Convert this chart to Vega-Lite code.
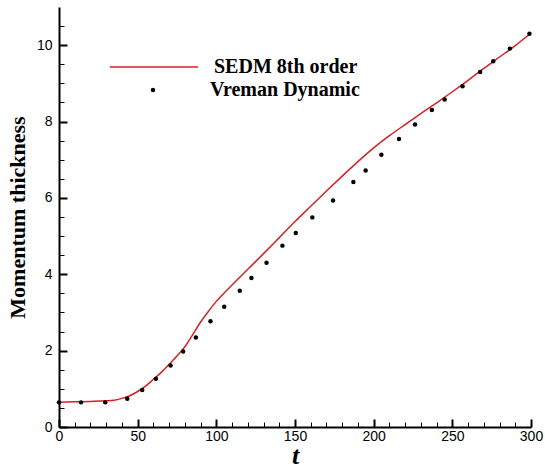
{
  "$schema": "https://vega.github.io/schema/vega-lite/v6.json",
  "width": 472,
  "height": 420,
  "autosize": {"type": "none"},
  "padding": {"left": 59, "top": 7, "right": 14, "bottom": 43},
  "background": "white",
  "config": {"view": {"stroke": null}},
  "datasets": {
    "sedm": [
      {"t": 0, "theta": 0.65}, {"t": 10, "theta": 0.66}, {"t": 20, "theta": 0.67}, {"t": 30, "theta": 0.685},
      {"t": 35, "theta": 0.70}, {"t": 40, "theta": 0.75}, {"t": 45, "theta": 0.82}, {"t": 50, "theta": 0.93},
      {"t": 55, "theta": 1.07}, {"t": 60, "theta": 1.25}, {"t": 65, "theta": 1.43}, {"t": 70, "theta": 1.64},
      {"t": 75, "theta": 1.86}, {"t": 80, "theta": 2.10}, {"t": 85, "theta": 2.42}, {"t": 90, "theta": 2.75},
      {"t": 95, "theta": 3.03}, {"t": 100, "theta": 3.29}, {"t": 105, "theta": 3.51}, {"t": 110, "theta": 3.72},
      {"t": 120, "theta": 4.13}, {"t": 130, "theta": 4.54}, {"t": 140, "theta": 4.96},
      {"t": 150, "theta": 5.38}, {"t": 160, "theta": 5.78}, {"t": 170, "theta": 6.18}, {"t": 180, "theta": 6.57},
      {"t": 190, "theta": 6.95}, {"t": 200, "theta": 7.31}, {"t": 210, "theta": 7.63}, {"t": 220, "theta": 7.92},
      {"t": 230, "theta": 8.21}, {"t": 240, "theta": 8.49}, {"t": 250, "theta": 8.78}, {"t": 260, "theta": 9.08},
      {"t": 270, "theta": 9.39}, {"t": 280, "theta": 9.69}, {"t": 290, "theta": 9.99}, {"t": 300, "theta": 10.32}
    ],
    "vreman": [
      {"t": 0, "theta": 0.645}, {"t": 14, "theta": 0.645}, {"t": 29.4, "theta": 0.645}, {"t": 43.4, "theta": 0.74},
      {"t": 52.9, "theta": 0.97}, {"t": 61.6, "theta": 1.265}, {"t": 70.9, "theta": 1.61}, {"t": 78.9, "theta": 1.98},
      {"t": 87, "theta": 2.345}, {"t": 96.3, "theta": 2.77}, {"t": 105, "theta": 3.15}, {"t": 114.9, "theta": 3.57},
      {"t": 122.3, "theta": 3.905}, {"t": 131.9, "theta": 4.30}, {"t": 142, "theta": 4.75}, {"t": 150.5, "theta": 5.08},
      {"t": 161, "theta": 5.49}, {"t": 174.2, "theta": 5.93}, {"t": 187.1, "theta": 6.415}, {"t": 194.9, "theta": 6.72},
      {"t": 204.9, "theta": 7.13}, {"t": 216.1, "theta": 7.54}, {"t": 226.3, "theta": 7.92}, {"t": 237, "theta": 8.30},
      {"t": 245.1, "theta": 8.575}, {"t": 256.5, "theta": 8.925}, {"t": 267.7, "theta": 9.30}, {"t": 276, "theta": 9.58},
      {"t": 286.6, "theta": 9.91}, {"t": 299, "theta": 10.30}
    ]
  },
  "encoding": {
    "x": {
      "field": "t", "type": "quantitative",
      "scale": {"domain": [0, 300], "nice": false},
      "axis": {
        "title": "t",
        "titleFont": "Liberation Serif", "titleFontStyle": "italic", "titleFontWeight": "bold", "titleFontSize": 26,
        "titleColor": "black", "titlePadding": -4,
        "values": [0,10,20,30,40,50,60,70,80,90,100,110,120,130,140,150,160,170,180,190,200,210,220,230,240,250,260,270,280,290,300],
        "labelExpr": "datum.value % 50 === 0 ? format(datum.value, 'd') : ''",
        "labelFont": "Liberation Sans", "labelFontSize": 14, "labelColor": "black", "labelPadding": 10,
        "labelFlush": false, "labelBound": false, "labelOverlap": false,
        "grid": false, "domainColor": "black", "domainWidth": 2,
        "tickColor": "black",
        "tickSize": {"condition": {"test": "datum.value % 50 === 0", "value": -8}, "value": -5},
        "tickWidth": {"condition": {"test": "datum.value % 50 === 0", "value": 2}, "value": 1}
      }
    },
    "y": {
      "field": "theta", "type": "quantitative",
      "scale": {"domain": [0, 11], "nice": false},
      "axis": {
        "title": "Momentum thickness",
        "titleFont": "Liberation Serif", "titleFontWeight": "bold", "titleFontSize": 22,
        "titleColor": "black", "titlePadding": 7,
        "values": [0,0.5,1,1.5,2,2.5,3,3.5,4,4.5,5,5.5,6,6.5,7,7.5,8,8.5,9,9.5,10,10.5],
        "labelExpr": "datum.value % 2 === 0 ? format(datum.value, 'd') : ''",
        "labelFont": "Liberation Sans", "labelFontSize": 14, "labelColor": "black", "labelPadding": 15,
        "labelFlush": false, "labelBound": false, "labelOverlap": false,
        "grid": false, "domainColor": "black", "domainWidth": 2,
        "tickColor": "black",
        "tickSize": {"condition": {"test": "datum.value % 2 === 0", "value": -8}, "value": -5},
        "tickWidth": {"condition": {"test": "datum.value % 2 === 0", "value": 2}, "value": 1}
      }
    }
  },
  "layer": [
    {
      "data": {"name": "sedm"},
      "transform": [{"calculate": "'SEDM 8th order'", "as": "series"}],
      "mark": {"type": "line", "strokeWidth": 1.5, "interpolate": "monotone"},
      "encoding": {
        "color": {
          "field": "series", "type": "nominal",
          "scale": {"domain": ["SEDM 8th order"], "range": ["#d81f26"]},
          "legend": {
            "title": null, "orient": "none", "legendX": 50, "legendY": 15,
            "symbolType": "stroke", "symbolSize": 7744, "symbolStrokeWidth": 1.5,
            "labelFont": "Liberation Serif", "labelFontWeight": "bold", "labelFontSize": 20, "labelColor": "black",
            "labelOffset": 15
          }
        }
      }
    },
    {
      "data": {"name": "vreman"},
      "transform": [{"calculate": "'Vreman Dynamic'", "as": "series2"}],
      "mark": {"type": "point", "filled": true, "color": "black", "size": 20, "opacity": 1},
      "encoding": {
        "shape": {
          "field": "series2", "type": "nominal",
          "scale": {"domain": ["Vreman Dynamic"], "range": ["circle"]},
          "legend": {
            "title": null, "orient": "none", "legendX": 84, "legendY": 73,
            "symbolSize": 20, "symbolFillColor": "black", "symbolStrokeColor": "black",
            "labelFont": "Liberation Serif", "labelFontWeight": "bold", "labelFontSize": 20, "labelColor": "black",
            "labelOffset": 47
          }
        }
      }
    }
  ]
}
